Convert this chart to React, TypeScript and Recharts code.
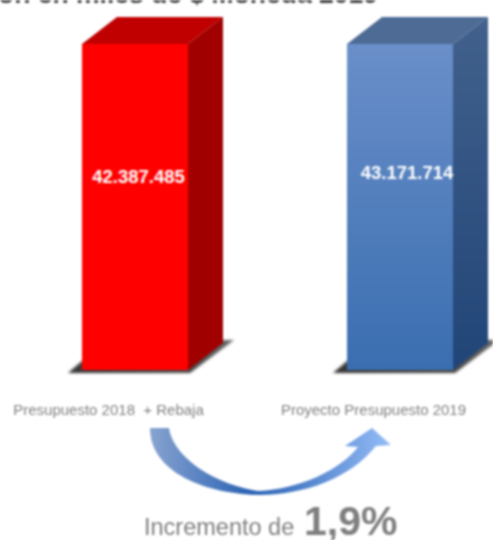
import { Bar, BarChart, Customized, XAxis, YAxis } from 'recharts';

const categorias = ['Presupuesto 2018\u00a0\u00a0+ Rebaja', 'Proyecto Presupuesto 2019'];
const rotulos = ['42.387.485', '43.171.714'];
// both columns are drawn the same height in the picture, whatever the figures say
const alturas = [100, 100];

const tabla = categorias.map((categoria, i) => ({
	categoria,
	rotulo: rotulos[i],
	altura: alturas[i],
}));

const DEPTH_X = 35;
const DEPTH_Y = 27;

function Column(props: any) {
	const { x, y, width, height, index } = props;
	const bottom = y + height;
	const right = x + width;
	const isRed = index === 0;
	return (
		<g>
			{/* floor shadow */}
			<polygon
				points={`${x - 14},${bottom + 3} ${x},${bottom - 9} ${right + 22},${bottom - 30} ${right + 46},${bottom - 30} ${right + 2},${bottom + 3}`}
				fill="url(#shadow)"
				filter="url(#soft)"
			/>
			<polygon
				points={`${x},${y} ${x + DEPTH_X},${y - DEPTH_Y} ${right + DEPTH_X},${y - DEPTH_Y} ${right},${y}`}
				fill={isRed ? '#c00000' : '#4e6b95'}
			/>
			<polygon
				points={`${right},${y} ${right + DEPTH_X},${y - DEPTH_Y} ${right + DEPTH_X},${bottom - DEPTH_Y} ${right},${bottom}`}
				fill={isRed ? '#a00000' : 'url(#blueSide)'}
			/>
			<rect x={x} y={y} width={width} height={height} fill={isRed ? '#ff0000' : 'url(#blueFront)'} />
			<text
				x={x + width / 2 + (isRed ? 3.5 : 7)}
				y={isRed ? 183 : 179}
				textAnchor="middle"
				fill="#ffffff"
				fontSize={18.5}
				fontWeight={700}
				fontFamily="Liberation Sans"
			>
				{rotulos[index]}
			</text>
		</g>
	);
}

function Arrow() {
	return (
		<g>
			<path
				d="M150 428 L169 428 C172 452 205 482 258 491 C300 489 340 470 358 447 L345 446 L372 428 L391 445 L376 446 C350 478 305 495 258 495 C200 493 150 470 150 428 Z"
				fill="url(#arrow)"
			/>
			<text x={144} y={535} fill="#7f7f7f" fontSize={23.5} fontFamily="Liberation Sans">
				Incremento de
			</text>
			<text x={304} y={535} fill="#7f7f7f" fontSize={41} fontWeight={700} fontFamily="Liberation Sans">
				1,9%
			</text>
			<text x={378} y={3} textAnchor="end" fill="#404040" fontSize={26.5} fontWeight={700} fontFamily="Liberation Sans">
				ón en miles de $ Moneda 2019
			</text>
		</g>
	);
}

export default function App() {
	return (
		<div style={{ position: 'absolute', left: 0, top: 0, width: 493, height: 540, filter: 'blur(0.8px)' }}>
			<BarChart
				width={493}
				height={540}
				data={tabla}
				margin={{ top: 44, right: -39, bottom: 140, left: 2 }}
				barCategoryGap={0}
			>
				<defs>
					<linearGradient id="blueFront" x1="0" y1="0" x2="0" y2="1">
						<stop offset="0%" stopColor="#6a8fc9" />
						<stop offset="100%" stopColor="#3a6eb0" />
					</linearGradient>
					<linearGradient id="blueSide" x1="0" y1="0" x2="0" y2="1">
						<stop offset="0%" stopColor="#42618c" />
						<stop offset="100%" stopColor="#214578" />
					</linearGradient>
					<linearGradient id="shadow" x1="0" y1="1" x2="1" y2="0">
						<stop offset="0%" stopColor="#333333" />
						<stop offset="100%" stopColor="#666666" />
					</linearGradient>
					<linearGradient id="arrow" gradientUnits="userSpaceOnUse" x1="150" y1="428" x2="391" y2="428">
						<stop offset="0%" stopColor="#88a3d0" />
						<stop offset="42%" stopColor="#2a62b4" />
						<stop offset="100%" stopColor="#94bcf7" />
					</linearGradient>
					<filter id="soft" x="-10%" y="-50%" width="120%" height="200%">
						<feGaussianBlur stdDeviation="1" />
					</filter>
				</defs>
				<XAxis
					dataKey="categoria"
					axisLine={false}
					tickLine={false}
					interval={0}
					dx={-26}
					tick={{ fill: '#808080', fontSize: 15, fontFamily: 'Liberation Sans' }}
					tickMargin={28}
				/>
				<YAxis hide domain={[0, 100]} />
				<Bar dataKey="altura" barSize={106} shape={Column} isAnimationActive={false} />
				<Customized component={Arrow} />
			</BarChart>
		</div>
	);
}
